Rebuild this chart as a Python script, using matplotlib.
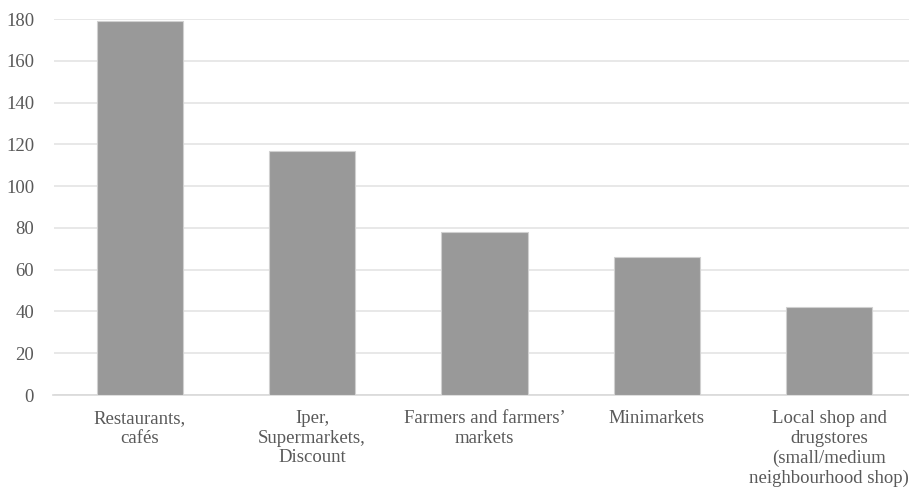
import matplotlib.pyplot as plt

categories = ["Restaurants,\ncafés", "Iper,\nSupermarkets,\nDiscount",
              "Farmers and farmers’\nmarkets", "Minimarkets",
              "Local shop and\ndrugstores\n(small/medium\nneighbourhood shop)"]
values = [179, 117, 78, 66, 42]
yticks = [0, 20, 40, 60, 80, 100, 120, 140, 160, 180]

plt.rcParams['font.family'] = ['Liberation Serif', 'DejaVu Serif']

fig = plt.figure(figsize=(9.09, 4.93), dpi=100)
# plot area runs slightly past the right edge of the picture, as in the original
ax = fig.add_axes([53.5 / 909, 1 - 395 / 493, 862 / 909, 376 / 493])

x = range(len(categories))
ax.bar(x, values, width=0.5, color='#999999', edgecolor='#d0d0d0', linewidth=0.8, zorder=3)

ax.set_xlim(-0.5, len(categories) - 0.5)
ax.set_ylim(0, 180)
ax.set_yticks(yticks)
ax.set_xticks(list(x))
ax.set_xticklabels(categories, linespacing=1.2, va='top')
ax.grid(axis='y', color='#e4e4e4', linewidth=1.2, zorder=0)

for s in ['top', 'right', 'left']:
    ax.spines[s].set_visible(False)
ax.spines['bottom'].set_color('#d9d9d9')
ax.spines['bottom'].set_linewidth(1.2)

ax.tick_params(axis='both', length=0, labelsize=13.5, colors='#595959')
ax.tick_params(axis='y', pad=14)
ax.tick_params(axis='x', pad=11)

fig.savefig('out.png', dpi=100)
